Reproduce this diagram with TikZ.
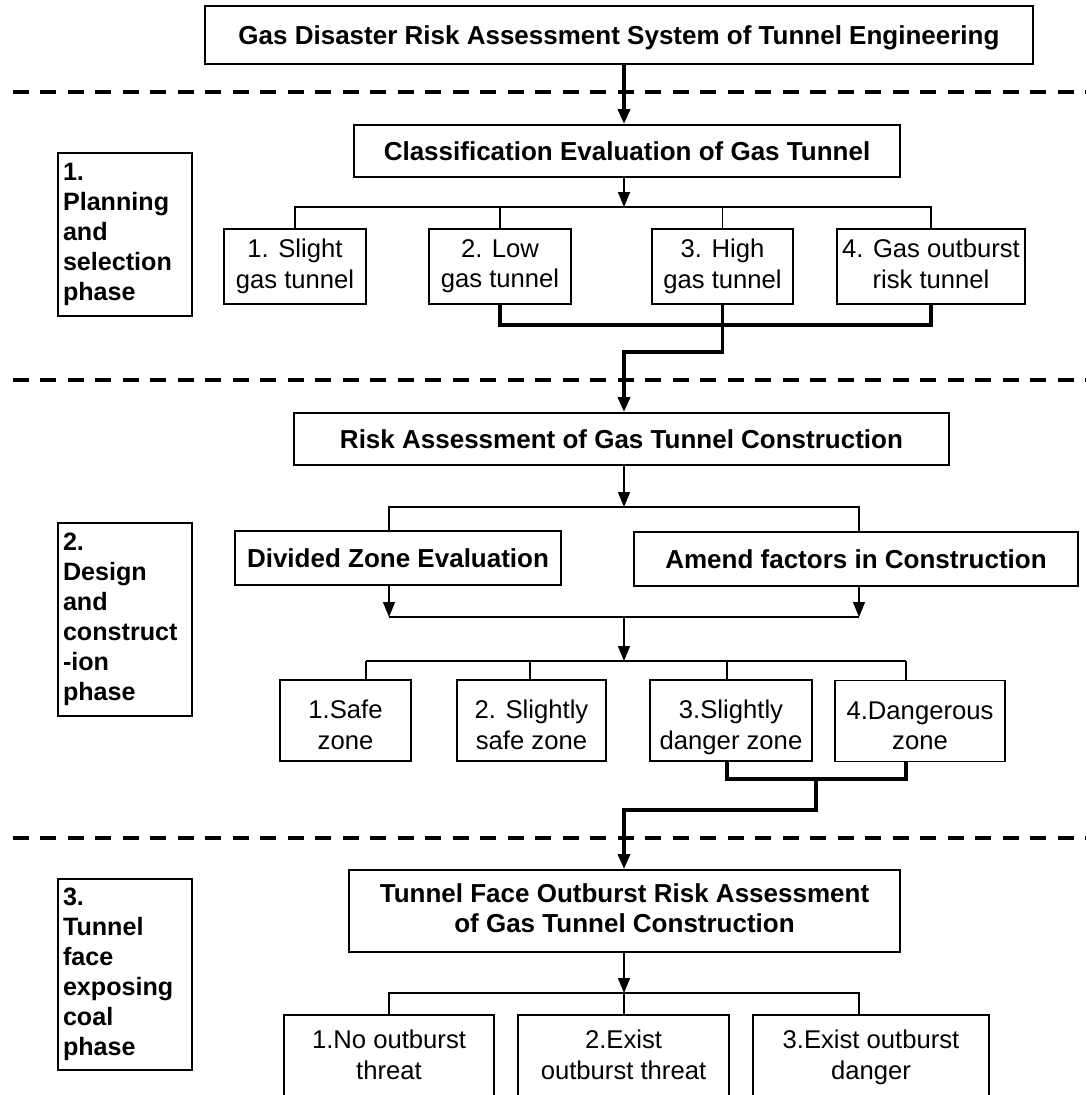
\documentclass[tikz,border=0pt]{standalone}
\usepackage{fontspec}
\setmainfont{Liberation Sans}
\usetikzlibrary{positioning, arrows.meta}

\newcommand{\topstrut}{\rule{0pt}{13.5pt}}
\newcommand{\botstrut}{\rule[-3.2pt]{0pt}{0pt}}

\begin{document}
\begin{tikzpicture}[
    x=0.02cm, y=-0.02cm,
    font=\fontsize{14.6}{17.4}\selectfont,
    box/.style={
        draw,
        line width=1.1pt,
        align=center,
        inner sep=0pt,
        execute at begin node=\topstrut,
        execute at end node=\botstrut
    },
    zonebox/.style={
        box,
        minimum height=1.62cm,
        text height=36pt
    },
    head/.style={
        box,
        font=\fontsize{14.8}{17.4}\selectfont\bfseries
    },
    phase/.style={
        draw,
        line width=1.1pt,
        align=left,
        text width=2.48cm,
        inner sep=0.1cm,
        font=\fontsize{14.3}{17.1}\selectfont\bfseries
    },
    arrow/.style={
        -{Triangle[length=0.3cm, width=0.24cm]},
        line width=0.85pt
    },
    thickarrow/.style={
        arrow,
        line width=2pt
    },
    link/.style={line width=0.85pt},
    thicklink/.style={line width=2pt},
    divider/.style={
        line width=0.07cm,
        dash pattern=on 0.32cm off 0.23cm
    }
]
\useasboundingbox (0,0) rectangle (1086,1095);

% axis and bus levels
\coordinate (axis) at (624,0);
\coordinate (dl) at (389,0);
\coordinate (dr) at (859,0);
\coordinate (bus1) at (0,207);
\coordinate (join1) at (0,325);
\coordinate (mid1) at (624,352);
\coordinate (bus2) at (0,507);
\coordinate (merge) at (0,617);
\coordinate (bus3) at (0,661);
\coordinate (join2) at (816,779);
\coordinate (mid2) at (816,810);
\coordinate (bus4) at (0,993);

% phase dividers
\draw[divider] (13,92) -- (1086,92);
\draw[divider] (13,380) -- (1086,380);
\draw[divider] (13,838) -- (1086,838);

% phases
\node[phase, minimum height=3.26cm] (plan) at (125,234.5)
    {1.\\Planning\\and\\selection\\phase};
\node[phase, minimum height=3.86cm] (design) at (125,619.5)
    {2.\\Design\\and\\construct\\-ion\\phase};
\node[phase, minimum height=3.82cm] (coal) at (125,974.5)
    {3.\\Tunnel\\face\\exposing\\coal\\phase};

% stage 1
\node[head, minimum width=16.56cm, minimum height=1.16cm] (system) at (619,35)
    {Gas Disaster Risk Assessment System of Tunnel Engineering};
\node[head, minimum width=10.92cm, minimum height=1.04cm] (classif) at (627,151)
    {Classification Evaluation of Gas Tunnel};

\node[box, minimum width=2.84cm, minimum height=1.5cm] (gas1) at (295,266.5)
    {1. Slight\\gas tunnel};
\node[box, minimum width=2.84cm, minimum height=1.5cm] (gas2) at (500,266.5)
    {2. Low\\gas tunnel};
\node[box, minimum width=2.82cm, minimum height=1.5cm] (gas3) at (722.5,266.5)
    {3. High\\gas tunnel};
\node[box, minimum width=3.76cm, minimum height=1.5cm] (gas4) at (931,266.5)
    {4. Gas outburst\\risk tunnel};

\draw[thickarrow] (system.south -| axis) -- (classif.north -| axis);
\draw[arrow] (classif.south -| axis) -- (bus1 -| axis);
\draw[link] (gas1.north) -- (gas1.north |- bus1) -- (gas4.north |- bus1) -- (gas4.north);
\foreach \n in {gas2, gas3}
    \draw[link] (\n.north) -- (\n.north |- bus1);

\draw[thicklink] (gas2.south) |- (gas4.south |- join1) -- (gas4.south);

% stage 2
\node[head, minimum width=13.1cm, minimum height=1.04cm] (risk) at (621.5,439)
    {Risk Assessment of Gas Tunnel Construction};
\node[head, minimum width=6.52cm, minimum height=1.08cm] (divided) at (398,558)
    {Divided Zone Evaluation};
\node[head, minimum width=8.88cm, minimum height=1.08cm] (amend) at (856,559)
    {Amend factors in Construction};

\draw[thickarrow] (gas3.south) -- (gas3.south |- mid1) -| (risk.north -| axis);
\draw[arrow] (risk.south -| axis) -- (bus2 -| axis);
\draw[link] (divided.north -| dl) -- (dl |- bus2) -- (dr |- bus2) -- (amend.north -| dr);
\draw[arrow] (divided.south -| dl) -- (dl |- merge);
\draw[arrow] (amend.south -| dr) -- (dr |- merge);
\draw[link] (dl |- merge) -- (dr |- merge);
\draw[arrow] (merge -| axis) -- (bus3 -| axis);

\node[zonebox, minimum width=2.62cm] (zone1) at (345.5,720.5)
    {1.Safe\\zone};
\node[zonebox, minimum width=2.98cm] (zone2) at (531.5,720.5)
    {2. Slightly\\safe zone};
\node[zonebox, minimum width=3.25cm] (zone3) at (731,720.5)
    {3.Slightly\\danger zone};
\node[zonebox, minimum width=3.4cm] (zone4) at (920,721)
    {4.Dangerous\\zone};

\draw[link] ([xshift=0.41cm]zone1.north |- bus3) -- ([xshift=-0.28cm]zone4.north |- bus3);
\foreach \n/\dx in {zone1/0.41cm, zone2/-0.03cm, zone3/-0.08cm, zone4/-0.28cm}
    \draw[link] ([xshift=\dx]\n.north) -- ([xshift=\dx]\n.north |- bus3);

\draw[thicklink] ([xshift=-0.08cm]zone3.south) |- ([xshift=-0.28cm]zone4.south |- join2)
    -- ([xshift=-0.28cm]zone4.south);

% stage 3
\node[head, minimum width=11.02cm, minimum height=1.64cm] (face) at (624.5,911)
    {Tunnel Face Outburst Risk Assessment\\of Gas Tunnel Construction};

\draw[thickarrow] (join2) -- (mid2) -| (face.north -| axis);
\draw[arrow] (face.south -| axis) -- (bus4 -| axis);

\node[box, minimum width=4.2cm, minimum height=1.7cm] (out1) at (389,1057.5)
    {1.No outburst\\threat};
\node[box, minimum width=4.22cm, minimum height=1.7cm] (out2) at (623.5,1057.5)
    {2.Exist\\outburst threat};
\node[box, minimum width=4.72cm, minimum height=1.7cm] (out3) at (871,1057.5)
    {3.Exist outburst\\danger};

\draw[link] (out1.north) -- (out1.north |- bus4) -- (dr |- bus4) -- (out3.north -| dr);
\draw[link] (bus4 -| axis) -- (out2.north -| axis);

\end{tikzpicture}
\end{document}
